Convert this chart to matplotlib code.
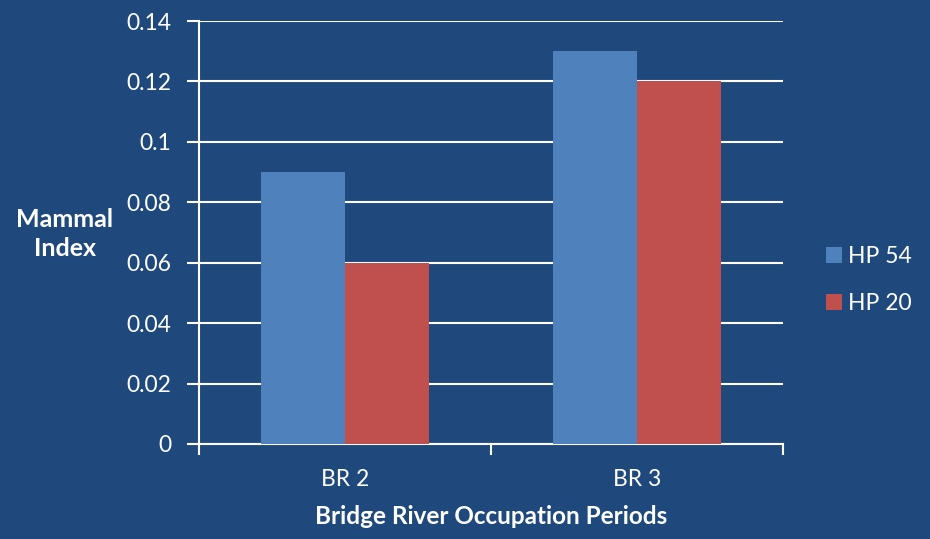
import matplotlib
matplotlib.use("Agg")
import matplotlib.pyplot as plt
import numpy as np

categories = ["BR 2", "BR 3"]
hp54 = [0.09, 0.13]
hp20 = [0.06, 0.12]
yticks = [0, 0.02, 0.04, 0.06, 0.08, 0.1, 0.12, 0.14]
ytick_labels = ["0", "0.02", "0.04", "0.06", "0.08", "0.1", "0.12", "0.14"]

bg = "#1F497D"
c1 = "#4F81BD"
c2 = "#C0504D"
font = ["Lato", "DejaVu Sans"]
plt.rcParams["font.family"] = font

fig = plt.figure(figsize=(9.3, 5.39), dpi=100, facecolor=bg)
ax = fig.add_axes([199/930, 1-444/539, (783-199)/930, (444-21)/539])
ax.set_facecolor(bg)

x = np.arange(len(categories))
w = 0.287
ax.bar(x - w/2, hp54, width=w, color=c1, label="HP 54", zorder=3)
ax.bar(x + w/2, hp20, width=w, color=c2, label="HP 20", zorder=3)

ax.set_xlim(-0.5, 1.5)
ax.set_ylim(0, 0.14)
ax.set_yticks(yticks)
ax.set_yticklabels(ytick_labels)
ax.yaxis.grid(True, color="white", linewidth=1.5, zorder=0)
ax.set_axisbelow(True)

ax.set_xticks(x)
ax.set_xticklabels(categories)
ax.set_xticks([-0.5, 0.5, 1.5], minor=True)
ax.tick_params(axis="x", which="major", length=0, pad=18, colors="white", labelsize=16.5)
ax.tick_params(axis="x", which="minor", length=8, width=1.5, color="white", direction="out")
ax.tick_params(axis="y", length=9, width=1.5, color="white", labelcolor="white", labelsize=16.5, pad=11)

for s in ["top", "right"]:
    ax.spines[s].set_visible(False)
for s in ["left", "bottom"]:
    ax.spines[s].set_color("white")
    ax.spines[s].set_linewidth(1.5)

ax.set_xlabel("Bridge River Occupation Periods", color="white", fontsize=17.5, fontweight="bold", labelpad=11)
fig.text(65/930, 1-234/539, "Mammal\nIndex", color="white", fontsize=18, fontweight="bold",
         ha="center", va="center", linespacing=1.3)

leg = fig.legend(loc="center left", bbox_to_anchor=(826/930, 1-280/539), frameon=False,
                 labelcolor="white", fontsize=16.5, handlelength=0.7, handleheight=0.7,
                 handletextpad=0.25, labelspacing=1.15, borderaxespad=0, borderpad=0)

fig.savefig("out.png", dpi=100, facecolor=bg)
